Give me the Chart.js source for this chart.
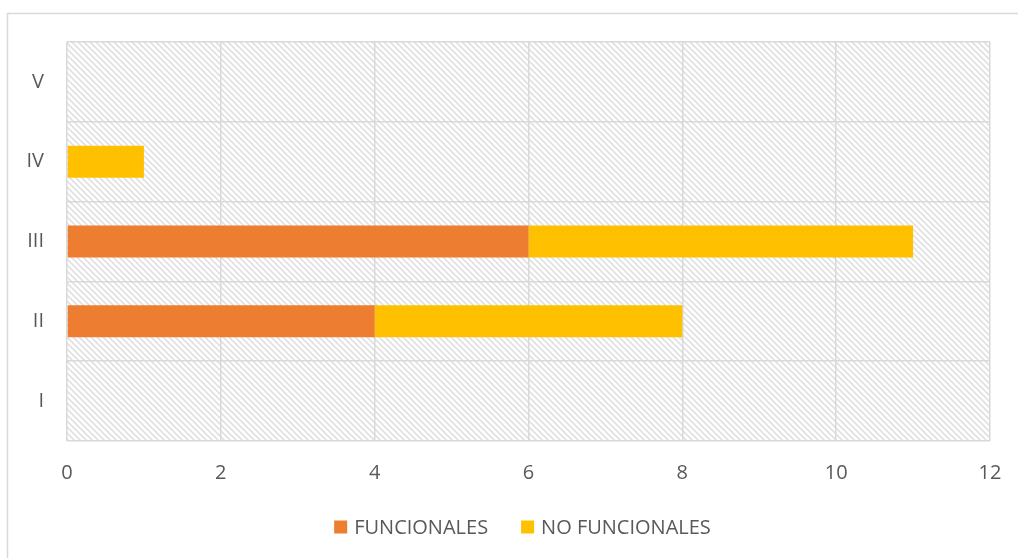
<!DOCTYPE html>
<html>
<head>
<meta charset="utf-8">
<script src="https://cdn.jsdelivr.net/npm/chart.js@4"></script>
<style>
  html, body { margin: 0; padding: 0; background: #fff; }
  #wrap { width: 1018px; height: 558px; }
</style>
</head>
<body>
<div id="wrap"><canvas id="chart"></canvas></div>
<script>
const categories = ['I', 'II', 'III', 'IV', 'V'];
const funcionales = [0, 4, 6, 0, 0];
const noFuncionales = [0, 4, 5, 1, 0];
const xTicks = [0, 2, 4, 6, 8, 10, 12];

const fontFamily = "'Open Sans', 'Noto Sans', sans-serif";
const font = { family: fontFamily, size: 20 };

// diagonal hatch like the office "wide downward diagonal" fill
function makeHatch(ctx) {
  const tile = document.createElement('canvas');
  tile.width = 6;
  tile.height = 6;
  const t = tile.getContext('2d');
  t.fillStyle = '#ffffff';
  t.fillRect(0, 0, 6, 6);
  t.strokeStyle = '#e0e0e0';
  t.lineWidth = 1.6;
  t.beginPath();
  t.moveTo(-1, -1); t.lineTo(7, 7);
  t.moveTo(-4, 2); t.lineTo(4, 10);
  t.moveTo(2, -4); t.lineTo(10, 4);
  t.stroke();
  return ctx.createPattern(tile, 'repeat');
}

const backdrop = {
  id: 'backdrop',
  beforeDraw(chart) {
    const { ctx, chartArea: a } = chart;
    ctx.save();
    ctx.fillStyle = '#ffffff';
    ctx.fillRect(0, 0, chart.width, chart.height);
    ctx.strokeStyle = '#d9d9d9';
    ctx.lineWidth = 1.5;
    ctx.strokeRect(7.5, 13.5, chart.width + 10, chart.height + 10);
    ctx.fillStyle = makeHatch(ctx);
    ctx.fillRect(a.left, a.top, a.right - a.left, a.bottom - a.top);
    ctx.restore();
  }
};

// legend drawn by hand so box/text spacing matches the original
const bottomLegend = {
  id: 'bottomLegend',
  afterDraw(chart) {
    const { ctx, chartArea: a } = chart;
    const box = 13, gapText = 7, gapItem = 33, cy = 527;
    ctx.save();
    ctx.font = `${font.size}px ${fontFamily}`;
    ctx.textBaseline = 'middle';
    const items = chart.data.datasets.map(ds => ({
      label: ds.label, color: ds.backgroundColor, w: ctx.measureText(ds.label).width
    }));
    const total = items.reduce((s, it) => s + box + gapText + it.w, 0) + gapItem * (items.length - 1);
    let x = (a.left + a.right) / 2 - total / 2 - 6;
    items.forEach(it => {
      ctx.fillStyle = it.color;
      ctx.fillRect(x, cy - box / 2, box, box);
      ctx.fillStyle = '#595959';
      ctx.fillText(it.label, x + box + gapText, cy + 1);
      x += box + gapText + it.w + gapItem;
    });
    ctx.restore();
  }
};

new Chart(document.getElementById('chart'), {
  type: 'bar',
  data: {
    labels: categories,
    datasets: [
      { label: 'FUNCIONALES', data: funcionales, backgroundColor: '#ED7D31' },
      { label: 'NO FUNCIONALES', data: noFuncionales, backgroundColor: '#FFC000' }
    ]
  },
  options: {
    indexAxis: 'y',
    responsive: true,
    maintainAspectRatio: false,
    animation: false,
    datasets: { bar: { categoryPercentage: 1, barPercentage: 0.4 } },
    layout: { padding: { top: 42, right: 28, bottom: 54, left: 0 } },
    scales: {
      x: {
        stacked: true,
        min: 0,
        max: 12,
        afterBuildTicks(axis) { axis.ticks = xTicks.map(v => ({ value: v })); },
        afterFit(axis) {
          axis.height = 63;
          axis.paddingLeft = 0;
          axis.paddingRight = 0;
        },
        grid: { color: '#d9d9d9', lineWidth: 1.5, drawTicks: false },
        border: { display: false },
        ticks: { color: '#595959', font, padding: 20 }
      },
      y: {
        stacked: true,
        reverse: true,
        afterFit(axis) { axis.width = 67; },
        grid: { color: '#d9d9d9', lineWidth: 1.5, drawTicks: false, offset: true },
        border: { display: false },
        ticks: { color: '#595959', font, padding: 23 }
      }
    },
    plugins: {
      legend: { display: false },
      tooltip: { enabled: false }
    }
  },
  plugins: [backdrop, bottomLegend]
});
</script>
</body>
</html>
